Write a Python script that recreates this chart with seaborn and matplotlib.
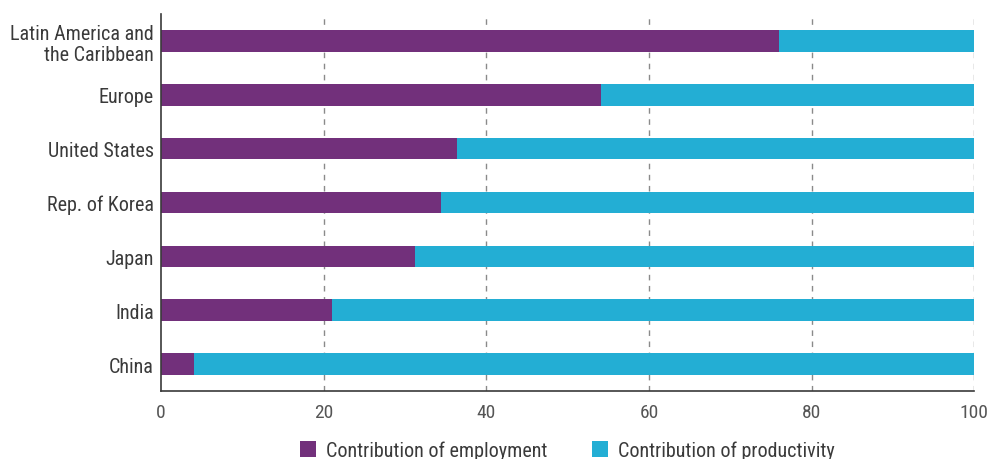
import matplotlib
matplotlib.use("Agg")
import matplotlib.pyplot as plt
from matplotlib.patches import Patch
from matplotlib import font_manager
import numpy as np
import pandas as pd
import seaborn as sns

regions = ["Latin America and\nthe Caribbean", "Europe", "United States",
           "Rep. of Korea", "Japan", "India", "China"]
employment = [76.0, 54.1, 36.4, 34.4, 31.2, 21.0, 4.1]
productivity = [24.0, 45.9, 63.6, 65.6, 68.8, 79.0, 95.9]
x_ticks = [0, 20, 40, 60, 80, 100]
series_names = ["Contribution of employment", "Contribution of productivity"]

PURPLE = "#72307b"
CYAN = "#23aed4"
TEXT = "#3a3a3a"

sns.set_theme(style="white")
names = {f.name for f in font_manager.fontManager.ttflist}
family = [f for f in ["Roboto Condensed", "Liberation Sans Narrow", "Roboto", "DejaVu Sans"] if f in names]
plt.rcParams["font.family"] = family

df = pd.DataFrame({
    "region": regions,
    "employment": employment,
    "total": np.array(employment) + np.array(productivity),
})

fig = plt.figure(figsize=(9.88, 4.6), dpi=100)
ax = fig.add_axes([0.163, 0.148, 0.823, 0.819])

# productivity stacked on employment: full bar first, employment over it
sns.barplot(data=df, y="region", x="total", color=CYAN, orient="h",
            width=0.4, saturation=1, edgecolor="none", ax=ax)
sns.barplot(data=df, y="region", x="employment", color=PURPLE, orient="h",
            width=0.4, saturation=1, edgecolor="none", ax=ax)

ax.set_xlim(0, 100)
ax.set_ylim(6.5, -0.5)
ax.set_xlabel("")
ax.set_ylabel("")

ax.set_xticks(x_ticks)
ax.set_xticklabels([str(t) for t in x_ticks], fontsize=14, color="#555555")
ax.tick_params(axis="x", length=5, width=1, color="#555555", direction="out", pad=4)

ax.set_yticks(range(len(regions)))
ax.set_yticklabels(regions, fontsize=14.5, color=TEXT, linespacing=1.15)
ax.tick_params(axis="y", which="major", length=0, pad=5)
ax.set_yticks(np.arange(-0.5, len(regions), 1.0), minor=True)
ax.tick_params(axis="y", which="minor", length=5, width=1, color=TEXT, direction="out")

for v in x_ticks[1:]:
    ax.axvline(v, color="#8a8a8a", linestyle=(0, (4, 4)), linewidth=1, zorder=0)

for side in ["top", "right"]:
    ax.spines[side].set_visible(False)
for side in ["left", "bottom"]:
    ax.spines[side].set_color(TEXT)
    ax.spines[side].set_linewidth(1.2)

handles = [Patch(facecolor=PURPLE, edgecolor="none"),
           Patch(facecolor=CYAN, edgecolor="none")]
ax.legend(handles, series_names, loc="upper center", bbox_to_anchor=(0.5, -0.084),
          ncol=2, frameon=False, fontsize=14.5, handlelength=0.8, handleheight=0.8,
          handletextpad=0.5, columnspacing=2.2, labelcolor=TEXT)

fig.savefig("out.png", dpi=100)
